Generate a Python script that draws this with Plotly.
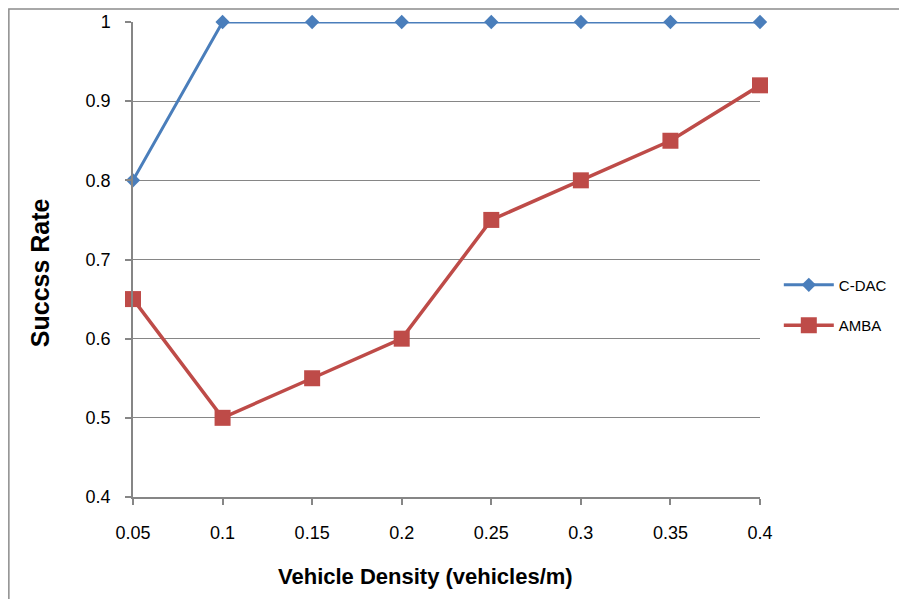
import plotly.graph_objects as go

# ---------- data ----------
density = [0.05, 0.1, 0.15, 0.2, 0.25, 0.3, 0.35, 0.4]
density_labels = ["0.05", "0.1", "0.15", "0.2", "0.25", "0.3", "0.35", "0.4"]
cdac = [0.8, 1, 1, 1, 1, 1, 1, 1]
amba = [0.65, 0.5, 0.55, 0.6, 0.75, 0.8, 0.85, 0.92]

BLUE = "#4a7ebb"
RED = "#be4b48"
GRID = "#868686"
FONT = "Liberation Sans, Arial, sans-serif"

fig = go.Figure()
fig.add_trace(go.Scatter(
    x=density, y=cdac, name="C-DAC", mode="lines+markers",
    line=dict(color=BLUE, width=3),
    marker=dict(symbol="diamond", size=11, color=BLUE),
    cliponaxis=False, legendgroup="a",
))
fig.add_trace(go.Scatter(
    x=density, y=amba, name="AMBA", mode="lines+markers",
    line=dict(color=RED, width=3.5),
    marker=dict(symbol="square", size=16, color=RED),
    cliponaxis=False, legendgroup="b",
))

# outer chart frame (cropped at right / bottom)
fig.add_shape(
    type="rect", xref="paper", yref="paper",
    x0=-0.198, x1=2, y0=-1, y1=1.0274,
    line=dict(color="#8c8c8c", width=1.5), fillcolor="rgba(0,0,0,0)",
    layer="below",
)

# axis titles (placed as in the original, slightly off-centre)
fig.add_annotation(
    text="<b>Vehicle Density (vehicles/m)</b>", xref="paper", yref="paper",
    x=0.466, y=-0.168, xanchor="center", yanchor="middle", showarrow=False,
    font=dict(size=22, color="#000000"),
)
fig.add_annotation(
    text="<b>Succss Rate</b>", xref="paper", yref="paper",
    x=-0.148, y=0.4716, xanchor="center", yanchor="middle", showarrow=False,
    textangle=-90, font=dict(size=25, color="#000000"),
)

fig.update_xaxes(
    range=[0.05, 0.4], tickvals=density, ticktext=density_labels,
    showgrid=False, showline=True, linecolor=GRID, linewidth=1.5,
    ticks="outside", ticklen=6, tickcolor=GRID, tickwidth=1.5,
    ticklabelstandoff=13, automargin=False,
    tickfont=dict(size=18, color="#000000"),
    zeroline=False,
)
fig.update_yaxes(
    range=[0.4, 1], dtick=0.1, tickformat="~g",
    showgrid=True, gridcolor=GRID, gridwidth=1.2,
    showline=True, linecolor=GRID, linewidth=1.5,
    ticks="outside", ticklen=6, tickcolor=GRID, tickwidth=1.5,
    ticklabelstandoff=11, automargin=False,
    tickfont=dict(size=18, color="#000000"),
    zeroline=False,
)

fig.update_layout(
    width=899, height=591,
    margin=dict(l=125, r=147, t=14, b=102),
    plot_bgcolor="#ffffff", paper_bgcolor="#ffffff",
    font=dict(family=FONT, size=15, color="#000000"),
    showlegend=True,
    legend=dict(
        x=1.03, y=0.404, xanchor="left", yanchor="middle",
        tracegroupgap=18, itemwidth=50,
        font=dict(size=15, color="#000000"),
        bgcolor="rgba(0,0,0,0)",
    ),
)

fig.write_html("out.html")
